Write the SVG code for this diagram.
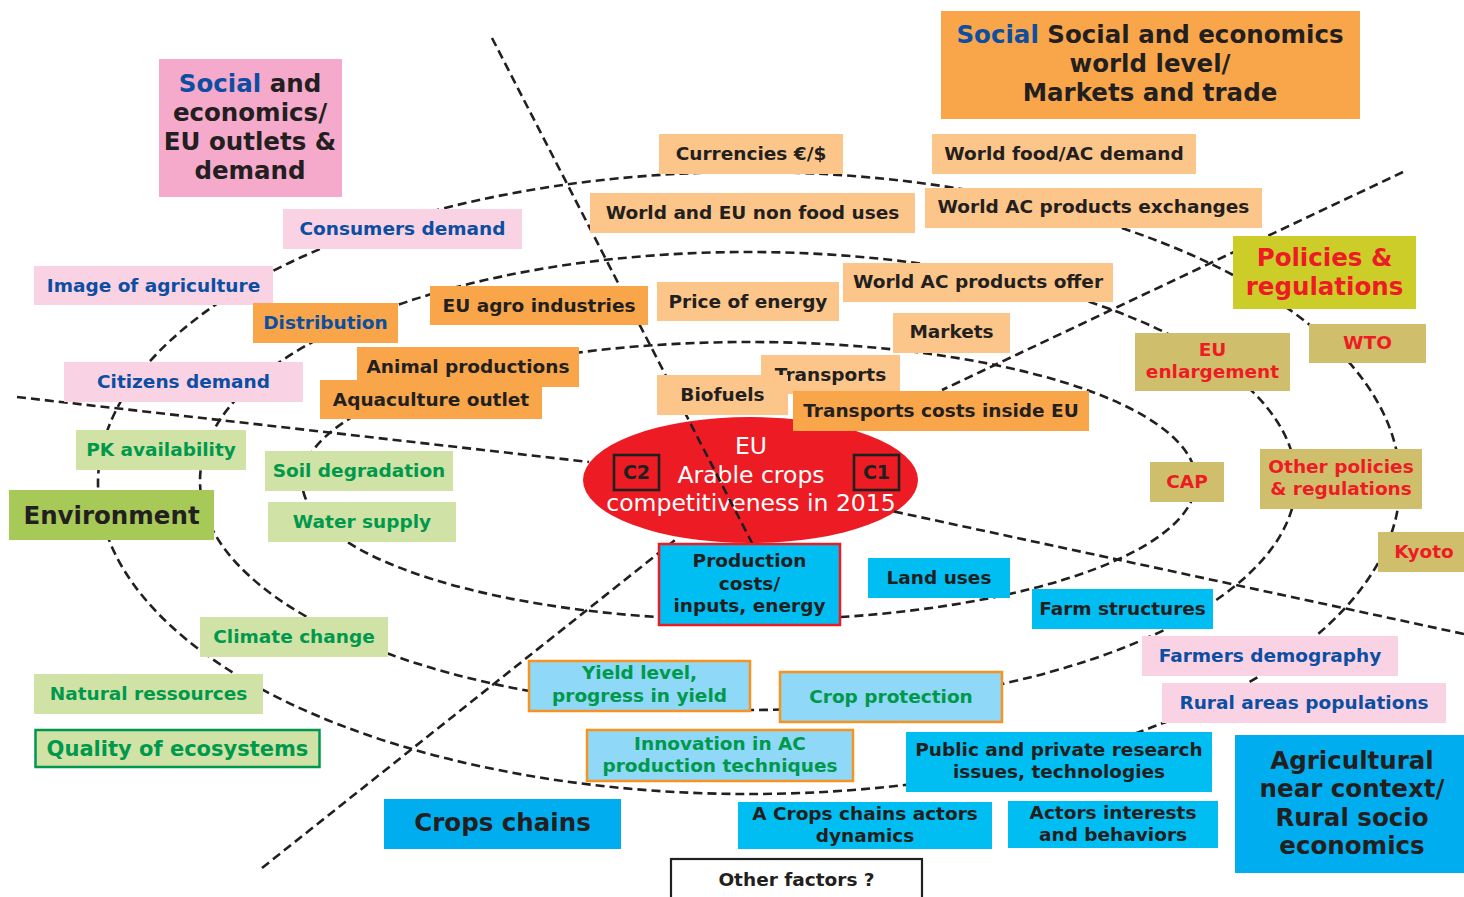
<svg xmlns="http://www.w3.org/2000/svg" width="1464" height="897" viewBox="0 0 1464 897">
<style>
text{font-family:"DejaVu Sans",Verdana,sans-serif;font-weight:bold;font-size:18.5px;text-anchor:middle}
.big{font-size:24.5px}
.dk{fill:#231f20}.bl{fill:#0b4ea2}.gr{fill:#00994c}.rd{fill:#ed1c24}.wh{fill:#fff;font-weight:normal;font-size:23.5px}
.pk{fill:#f5a9cb}.lpk{fill:#f9d3e4}.or{fill:#f9a64b}.lor{fill:#fcc68a}
.pol{fill:#cdcd29}.kh{fill:#cfbf6d}.lg{fill:#d1e2a6}.env{fill:#a7c957}
.cy{fill:#00bdf2}.bb{fill:#00adef}.lc{fill:#8fd8f7;stroke:#f7931e;stroke-width:2.5}
.dash{fill:none;stroke:#231f20;stroke-width:2.6;stroke-dasharray:9 5}
</style>
<rect width="1464" height="897" fill="#fff"/>
<g id="core">
<ellipse cx="750.5" cy="480" rx="167.5" ry="63" fill="#ed1c24"/>
<text class="wh" x="751" y="454">EU</text>
<text class="wh" x="751" y="483">Arable crops</text>
<text class="wh" x="751" y="511">competitiveness in 2015</text>
<rect x="614" y="455" width="45" height="35" fill="none" stroke="#231f20" stroke-width="2.6"/>
<text class="dk" x="636.5" y="479" style="font-size:19px">C2</text>
<rect x="854" y="455" width="45" height="35" fill="none" stroke="#231f20" stroke-width="2.6"/>
<text class="dk" x="876.5" y="479" style="font-size:19px">C1</text>
</g>
<g id="connectors">
<ellipse class="dash" cx="749" cy="481" rx="447" ry="139"/>
<ellipse class="dash" cx="748" cy="481" rx="548" ry="229"/>
<ellipse class="dash" cx="749" cy="483" rx="651" ry="311"/>
<path class="dash" d="M492,38 L752,543"/>
<path class="dash" d="M17,397 L589,462"/>
<path class="dash" d="M894,511.5 L1464,634"/>
<path class="dash" d="M1403,172 L942,390"/>
<path class="dash" d="M262,868 L677,538.5"/>
</g>
<g id="social-eu">
<rect class="pk" x="159" y="59" width="183" height="138"/>
<text class="big dk" x="250" y="92"><tspan class="bl">Social</tspan> and</text>
<text class="big dk" x="250" y="121">economics/</text>
<text class="big dk" x="250" y="150">EU outlets &amp;</text>
<text class="big dk" x="250" y="179">demand</text>
</g>
<g id="social-world">
<rect class="or" x="941" y="11" width="419" height="108"/>
<text class="big dk" x="1150" y="43"><tspan class="bl">Social</tspan> Social and economics</text>
<text class="big dk" x="1150" y="72">world level/</text>
<text class="big dk" x="1150" y="101">Markets and trade</text>
</g>
<g id="consumers"><rect class="lpk" x="283" y="209" width="239" height="40"/><text class="bl" x="402.5" y="235">Consumers demand</text></g>
<g id="image"><rect class="lpk" x="34" y="266" width="239" height="39"/><text class="bl" x="153.5" y="292">Image of agriculture</text></g>
<g id="distribution"><rect class="or" x="253" y="303" width="145" height="40"/><text class="bl" x="325.5" y="329">Distribution</text></g>
<g id="agro"><rect class="or" x="430" y="286" width="218" height="39"/><text class="dk" x="539" y="312">EU agro industries</text></g>
<g id="citizens"><rect class="lpk" x="64" y="362" width="239" height="40"/><text class="bl" x="183.5" y="388">Citizens demand</text></g>
<g id="animal"><rect class="or" x="357" y="347" width="222" height="40"/><text class="dk" x="468" y="373">Animal productions</text></g>
<g id="aquaculture"><rect class="or" x="320" y="380" width="222" height="39"/><text class="dk" x="431" y="406">Aquaculture outlet</text></g>
<g id="currencies"><rect class="lor" x="659" y="134" width="184" height="40"/><text class="dk" x="751" y="160">Currencies €/$</text></g>
<g id="worldfood"><rect class="lor" x="932" y="134" width="264" height="40"/><text class="dk" x="1064" y="160">World food/AC demand</text></g>
<g id="nonfood"><rect class="lor" x="590" y="193" width="325" height="40"/><text class="dk" x="752.5" y="219">World and EU non food uses</text></g>
<g id="exchanges"><rect class="lor" x="925" y="188" width="337" height="40"/><text class="dk" x="1093.5" y="213">World AC products exchanges</text></g>
<g id="energy"><rect class="lor" x="657" y="282" width="182" height="39"/><text class="dk" x="748" y="308">Price of energy</text></g>
<g id="offer"><rect class="lor" x="843" y="263" width="270" height="39"/><text class="dk" x="978" y="288">World AC products offer</text></g>
<g id="markets"><rect class="lor" x="893" y="313" width="117" height="40"/><text class="dk" x="951.5" y="338">Markets</text></g>
<g id="transports"><rect class="lor" x="761" y="355" width="139" height="39"/><text class="dk" x="830.5" y="381">Transports</text></g>
<g id="biofuels"><rect class="lor" x="657" y="375" width="131" height="40"/><text class="dk" x="722.5" y="401">Biofuels</text></g>
<g id="transportcosts"><rect class="or" x="793" y="391" width="296" height="40"/><text class="dk" x="941" y="417">Transports costs inside EU</text></g>
<g id="policies">
<rect class="pol" x="1233" y="236" width="183" height="73"/>
<text class="big rd" x="1324.5" y="266">Policies &amp;</text>
<text class="big rd" x="1324.5" y="295">regulations</text>
</g>
<g id="wto"><rect class="kh" x="1309" y="324" width="117" height="39"/><text class="rd" x="1367.5" y="349">WTO</text></g>
<g id="enlargement"><rect class="kh" x="1135" y="333" width="155" height="58"/><text class="rd" x="1212.5" y="356">EU</text><text class="rd" x="1212.5" y="378">enlargement</text></g>
<g id="cap"><rect class="kh" x="1150" y="462" width="74" height="40"/><text class="rd" x="1187" y="488">CAP</text></g>
<g id="otherpolicies"><rect class="kh" x="1260" y="449" width="162" height="60"/><text class="rd" x="1341" y="473">Other policies</text><text class="rd" x="1341" y="495">&amp; regulations</text></g>
<g id="kyoto"><rect class="kh" x="1378" y="532" width="86" height="40"/><text class="rd" x="1424" y="558">Kyoto</text></g>
<g id="pk"><rect class="lg" x="76" y="430" width="170" height="40"/><text class="gr" x="161" y="456">PK availability</text></g>
<g id="soil"><rect class="lg" x="265" y="451" width="188" height="40"/><text class="gr" x="359" y="477">Soil degradation</text></g>
<g id="environment"><rect class="env" x="9" y="490" width="205" height="50"/><text class="big dk" x="111.5" y="524">Environment</text></g>
<g id="water"><rect class="lg" x="268" y="502" width="188" height="40"/><text class="gr" x="362" y="528">Water supply</text></g>
<g id="climate"><rect class="lg" x="200" y="617" width="188" height="40"/><text class="gr" x="294" y="643">Climate change</text></g>
<g id="natural"><rect class="lg" x="34" y="674" width="229" height="40"/><text class="gr" x="148.5" y="700">Natural ressources</text></g>
<g id="ecosystems"><rect class="lg" x="35.5" y="730" width="284" height="37" stroke="#00994c" stroke-width="2.5"/><text class="gr" x="177.5" y="756" style="font-size:21px">Quality of ecosystems</text></g>
<g id="production">
<rect class="cy" x="659" y="544" width="181" height="81" stroke="#ed1c24" stroke-width="2.5"/>
<text class="dk" x="749.5" y="567">Production</text>
<text class="dk" x="749.5" y="590">costs/</text>
<text class="dk" x="749.5" y="612">inputs, energy</text>
</g>
<g id="landuses"><rect class="cy" x="868" y="558" width="142" height="40"/><text class="dk" x="939" y="584">Land uses</text></g>
<g id="farmstructures"><rect class="cy" x="1032" y="589" width="181" height="40"/><text class="dk" x="1122.5" y="615">Farm structures</text></g>
<g id="farmers"><rect class="lpk" x="1142" y="636" width="256" height="40"/><text class="bl" x="1270" y="662">Farmers demography</text></g>
<g id="rural"><rect class="lpk" x="1162" y="683" width="284" height="40"/><text class="bl" x="1304" y="709">Rural areas populations</text></g>
<g id="yield"><rect class="lc" x="529" y="661" width="221" height="50"/><text class="gr" x="639.5" y="679">Yield level,</text><text class="gr" x="639.5" y="702">progress in yield</text></g>
<g id="cropprotection"><rect class="lc" x="780" y="672" width="222" height="50"/><text class="gr" x="891" y="703">Crop protection</text></g>
<g id="innovation"><rect class="lc" x="587" y="730" width="266" height="51"/><text class="gr" x="720" y="750">Innovation in AC</text><text class="gr" x="720" y="772">production techniques</text></g>
<g id="research"><rect class="cy" x="906" y="732" width="306" height="60"/><text class="dk" x="1059" y="756">Public and private research</text><text class="dk" x="1059" y="778">issues, technologies</text></g>
<g id="cropschains"><rect class="bb" x="384" y="799" width="237" height="50"/><text class="big dk" x="502.5" y="831">Crops chains</text></g>
<g id="actorsdynamics"><rect class="cy" x="738" y="802" width="254" height="47"/><text class="dk" x="865" y="820">A Crops chains actors</text><text class="dk" x="865" y="842">dynamics</text></g>
<g id="actorsinterests"><rect class="cy" x="1008" y="801" width="210" height="47"/><text class="dk" x="1113" y="819">Actors interests</text><text class="dk" x="1113" y="841">and behaviors</text></g>
<g id="agricultural">
<rect class="bb" x="1235" y="735" width="229" height="138"/>
<text class="big dk" x="1352" y="769">Agricultural</text>
<text class="big dk" x="1352" y="797">near context/</text>
<text class="big dk" x="1352" y="826">Rural socio</text>
<text class="big dk" x="1352" y="854">economics</text>
</g>
<g id="otherfactors"><rect x="671" y="859" width="251" height="50" fill="#fff" stroke="#231f20" stroke-width="2.2"/><text class="dk" x="796.5" y="886">Other factors ?</text></g>
</svg>
